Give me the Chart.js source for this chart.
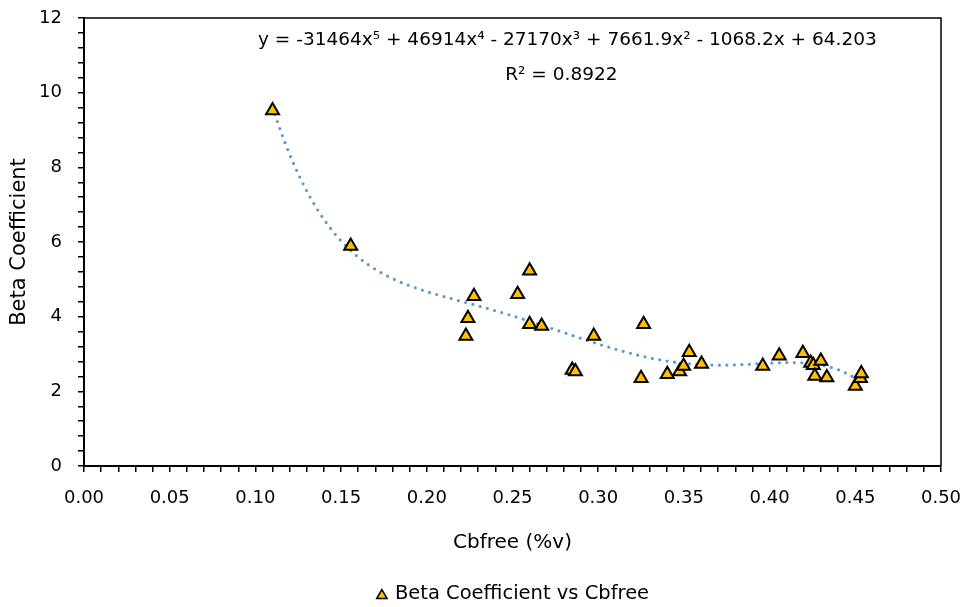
<!DOCTYPE html>
<html><head><meta charset="utf-8">
<script src="https://cdn.jsdelivr.net/npm/chart.js@4.4.1/dist/chart.umd.min.js"></script>
<style>html,body{margin:0;padding:0;background:#fff}#wrap{width:968px;height:607px}</style>
</head><body><div id="wrap"><canvas id="c" width="968" height="607"></canvas></div>
<script>
// ---- data ----
const cbfree = [0.110, 0.1556, 0.2228, 0.2240, 0.2275, 0.2530, 0.2600, 0.2600, 0.2670, 0.2848,
                0.2867, 0.2974, 0.3250, 0.3265, 0.3403, 0.3475, 0.3498, 0.3531, 0.3603, 0.3960,
                0.4056, 0.4194, 0.4240, 0.4255, 0.4264, 0.4299, 0.4334, 0.4500, 0.4530, 0.4535];
const beta   = [9.52, 5.89, 3.48, 3.96, 4.55, 4.60, 5.23, 3.80, 3.75, 2.57,
                2.53, 3.48, 2.35, 3.80, 2.46, 2.53, 2.68, 3.05, 2.73, 2.68,
                2.95, 3.02, 2.76, 2.70, 2.41, 2.81, 2.37, 2.14, 2.35, 2.48];
const seriesLabel = 'Beta Coefficient vs Cbfree';
// trendline coefficients shown on the chart (constant term first)
const trendCoef = [64.203, -1068.2, 7661.9, -27170, 46914, -31464];
const equationText = 'y = -31464x\u2075 + 46914x\u2074 - 27170x\u00B3 + 7661.9x\u00B2 - 1068.2x + 64.203';
const r2Text = 'R\u00B2 = 0.8922';
const xTitle = 'Cbfree (%v)';
const yTitle = 'Beta Coefficient';
const xRange = [0, 0.5], xMajor = 0.05, xMinor = 0.01;
const yRange = [0, 12], yMajor = 2, yMinor = 0.4;

const points = cbfree.map((x, i) => ({x: x, y: beta[i]}));
const xLo = Math.min(...cbfree), xHi = Math.max(...cbfree);
const trend = [];
for (let i = 0; i <= 150; i++) {
  const x = xLo + (xHi - xLo) * i / 150;
  let y = 0;
  for (let k = trendCoef.length - 1; k >= 0; k--) y = y * x + trendCoef[k];
  trend.push({x: x, y: y});
}

const FONT = "'DejaVu Sans', sans-serif";
Chart.defaults.font.family = FONT;
Chart.defaults.color = '#000';

const isMult = (v, m) => Math.abs(v / m - Math.round(v / m)) < 1e-6;

const framePlugin = {
  id: 'frame',
  afterDatasetsDraw(chart) {
    const {ctx, chartArea: a} = chart;
    ctx.save();
    ctx.strokeStyle = '#000';
    ctx.lineWidth = 1.5;
    ctx.beginPath();
    ctx.moveTo(a.left, a.top);
    ctx.lineTo(a.right, a.top);
    ctx.lineTo(a.right, a.bottom);
    ctx.stroke();
    ctx.restore();
  }
};

const textPlugin = {
  id: 'eqtext',
  afterDraw(chart) {
    const {ctx, chartArea: a} = chart;
    ctx.save();
    ctx.fillStyle = '#000';
    ctx.font = '18.5px ' + FONT;
    ctx.textAlign = 'center';
    ctx.textBaseline = 'middle';
    const w = a.right - a.left;
    ctx.fillText(equationText, a.left + w * 0.564, a.top + 22);
    ctx.fillText(r2Text, a.left + w * 0.557, a.top + 57);
    // legend
    const ds = chart.data.datasets[0];
    ctx.font = '19.5px ' + FONT;
    const tw = ctx.measureText(seriesLabel).width;
    const blockW = 19 + tw;
    const cx = (a.left + a.right) / 2;
    const x0 = cx - blockW / 2;
    const y0 = chart.height - 13;
    ctx.fillStyle = ds.backgroundColor; ctx.strokeStyle = '#000'; ctx.lineWidth = 1.5;
    ctx.beginPath();
    const r = 6, px = x0 + 6, py = y0 + 1.5;
    ctx.moveTo(px, py - r);
    ctx.lineTo(px + r * Math.sin(2 * Math.PI / 3), py - r * Math.cos(2 * Math.PI / 3));
    ctx.lineTo(px + r * Math.sin(4 * Math.PI / 3), py - r * Math.cos(4 * Math.PI / 3));
    ctx.closePath();
    ctx.fill(); ctx.stroke();
    ctx.fillStyle = '#000';
    ctx.textAlign = 'left';
    ctx.fillText(seriesLabel, x0 + 19, y0);
    ctx.restore();
  }
};

new Chart(document.getElementById('c'), {
  type: 'scatter',
  data: {
    datasets: [
      {
        label: seriesLabel,
        data: points,
        pointStyle: 'triangle',
        pointRadius: 7.5,
        pointHoverRadius: 7.5,
        backgroundColor: '#FFC000',
        borderColor: '#000',
        pointBorderWidth: 2,
        showLine: false,
        order: 1
      },
      {
        label: 'Poly. trend',
        data: trend,
        showLine: true,
        pointRadius: 0,
        borderColor: '#5B9BD5',
        borderWidth: 3.2,
        borderDash: [0, 7.5],
        borderCapStyle: 'round',
        tension: 0,
        fill: false,
        order: 2
      }
    ]
  },
  options: {
    responsive: false,
    animation: false,
    devicePixelRatio: 1,
    layout: {padding: {top: 18, right: 27, left: 0, bottom: 51}},
    plugins: {legend: {display: false}, tooltip: {enabled: false}},
    scales: {
      x: {
        type: 'linear',
        min: xRange[0], max: xRange[1],
        afterFit(s) { s.height = 90; s.paddingLeft = 0; s.paddingRight = 0; },
        ticks: {
          stepSize: xMinor, autoSkip: false, maxRotation: 0, minRotation: 0,
          padding: 16, font: {size: 18}, color: '#000',
          callback: v => isMult(v, xMajor) ? v.toFixed(2) : ''
        },
        grid: {drawOnChartArea: false, drawTicks: true, tickLength: 6, color: '#000', lineWidth: 1.5},
        border: {display: true, color: '#000', width: 2},
        title: {display: true, text: xTitle, font: {size: 20}, color: '#000', padding: {top: 0, bottom: 1}}
      },
      y: {
        type: 'linear',
        min: yRange[0], max: yRange[1],
        afterFit(s) { s.width = 84; s.paddingTop = 0; s.paddingBottom = 0; },
        ticks: {
          stepSize: yMinor, autoSkip: false,
          padding: 16, font: {size: 18}, color: '#000',
          callback: v => isMult(v, yMajor) ? String(Math.round(v)) : ''
        },
        grid: {drawOnChartArea: false, drawTicks: true, tickLength: 6, color: '#000', lineWidth: 1.5},
        border: {display: true, color: '#000', width: 2},
        title: {display: true, text: yTitle, font: {size: 21}, color: '#000', padding: {top: 7, bottom: 0}}
      }
    }
  },
  plugins: [framePlugin, textPlugin]
});
</script></body></html>
